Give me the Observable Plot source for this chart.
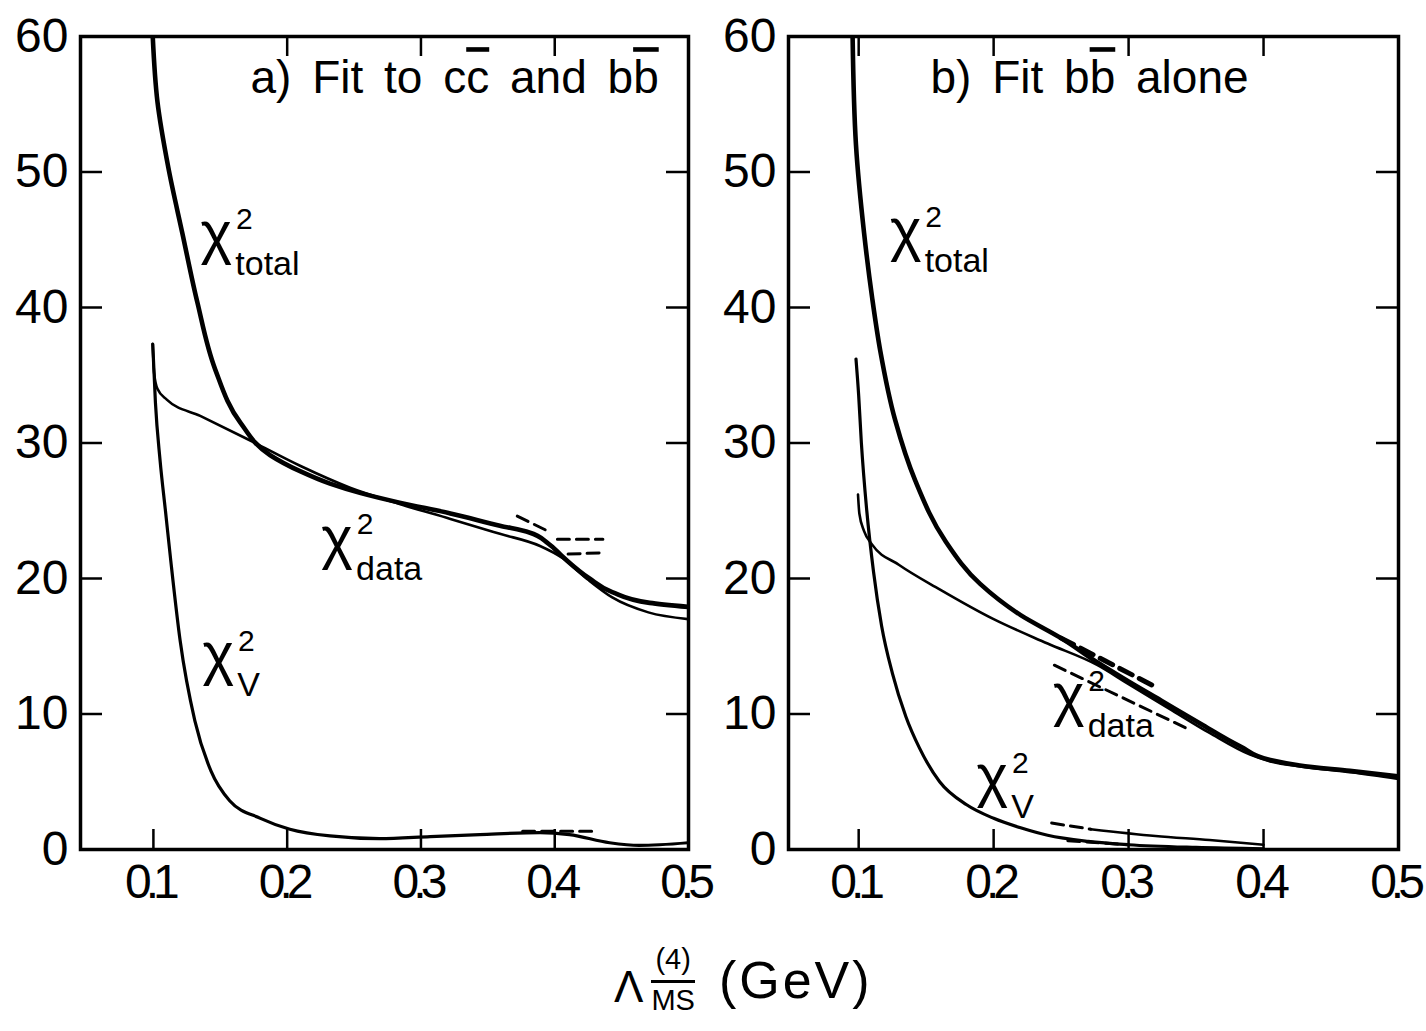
<!DOCTYPE html>
<html><head><meta charset="utf-8">
<script src="https://cdn.jsdelivr.net/npm/d3@7"></script>
<script src="https://cdn.jsdelivr.net/npm/@observablehq/plot@0.6"></script>
<style>
html,body{margin:0;padding:0;background:#fff;}
body{width:1426px;height:1031px;position:relative;overflow:hidden;font-family:"Liberation Sans",Arial,sans-serif;}
#pa{position:absolute;left:0;top:0;}
#pb{position:absolute;left:700px;top:0;}
#pa svg,#pb svg{overflow:visible;max-width:none;background:transparent;}
g[aria-label="x-axis tick label"] text{letter-spacing:-6px;}
#xlabel{position:absolute;left:614px;top:944px;line-height:1;white-space:nowrap;color:#000;}
#xlabel .lam{display:inline-block;vertical-align:middle;font-size:44px;margin-top:14px;}
#xlabel .stack{display:inline-flex;flex-direction:column;align-items:center;vertical-align:middle;margin:0 24px 0 8px;}
#xlabel .stack span{font-size:29px;line-height:1.05;}
#xlabel .stack .ms{border-top:3px solid #000;padding-top:2px;margin-top:6px;}
#xlabel .gev{display:inline-block;vertical-align:middle;font-size:52px;letter-spacing:3px;}
</style>
</head><body>
<div id="pa"></div><div id="pb"></div>
<div id="xlabel"><span class="lam">Λ</span><span class="stack"><span>(4)</span><span class="ms">MS</span></span><span class="gev">(GeV)</span></div>
<script>
// ---- axis ticks ----
const xTickValues = [0.1, 0.2, 0.3, 0.4, 0.5];
const yTickValues = [0, 10, 20, 30, 40, 50, 60];
const xInnerTicks = [0.1, 0.2, 0.3, 0.4];
const yInnerTicks = [10, 20, 30, 40, 50];

// ---- panel a) Fit to cc̄ and bb̄ ----
const aTotal = [[0.0995,60],[0.103,55.2],[0.1112,50.3],[0.1216,45.5],[0.1328,40.4],[0.1463,35.4],[0.165,31.5],[0.1873,29.1],[0.21,27.9],[0.232,27.0],[0.255,26.3],[0.284,25.6],[0.322,24.8],[0.359,23.9],[0.381,23.4],[0.395,22.6],[0.406,21.6],[0.426,20.0],[0.443,19.0],[0.471,18.2],[0.5,17.9]];
const aData = [[0.0995,37.3],[0.1005,35.2],[0.103,34.0],[0.11,33.2],[0.135,32.0],[0.172,30.2],[0.21,28.3],[0.247,26.7],[0.284,25.5],[0.322,24.4],[0.359,23.3],[0.389,22.4],[0.406,21.5],[0.425,19.9],[0.443,18.6],[0.47,17.5],[0.5,17.0]];
const aV = [[0.0995,37.3],[0.1015,33],[0.105,28.7],[0.109,25],[0.113,21.3],[0.12,15.4],[0.131,9.5],[0.143,5.8],[0.157,3.6],[0.18,2.3],[0.202,1.5],[0.232,1.0],[0.269,0.8],[0.307,0.95],[0.344,1.1],[0.389,1.25],[0.411,1.1],[0.441,0.5],[0.463,0.3],[0.5,0.5]];
const aDashed = [
  [[0.372,24.6],[0.397,23.4]],
  [[0.402,22.9],[0.436,22.9]],
  [[0.41,21.8],[0.436,21.9]],
  [[0.376,1.35],[0.43,1.35]]
];

// ---- panel b) Fit bb̄ alone ----
const bTotal = [[0.0955,60],[0.098,52],[0.104,45.5],[0.11,40.7],[0.116,36.8],[0.127,31.7],[0.142,27.2],[0.164,22.8],[0.19,19.6],[0.22,17.3],[0.25,15.6],[0.277,13.8],[0.3,12.4],[0.324,11.0],[0.353,9.3],[0.383,7.6],[0.405,6.6],[0.427,6.2],[0.464,5.8],[0.5,5.4]];
const bData = [[0.0995,26.2],[0.1005,24.8],[0.104,23.5],[0.11,22.5],[0.13,21.0],[0.16,19.2],[0.2,17.0],[0.24,15.2],[0.277,13.6],[0.3,12.2],[0.33,10.4],[0.36,8.6],[0.39,7.0],[0.405,6.5],[0.43,6.1],[0.465,5.7],[0.5,5.2]];
const bV = [[0.098,36.2],[0.1,33.5],[0.102,30],[0.106,25],[0.111,20.5],[0.117,16.5],[0.125,13],[0.135,9.8],[0.145,7.5],[0.16,5.0],[0.18,3.3],[0.2,2.3],[0.22,1.6],[0.24,1.05],[0.27,0.6],[0.3,0.35],[0.35,0.15],[0.4,0.05]];
const bV2 = [[0.272,1.5],[0.32,1.0],[0.36,0.7],[0.4,0.35]];
const bDashed = [
  [[0.243,1.95],[0.272,1.5]],
  [[0.255,0.65],[0.3,0.35]],
  [[0.245,13.6],[0.344,8.9]]
];
const bDashedThick = [
  [[0.25,15.6],[0.318,12.1]]
];

// ---- curve labels ----
const labelSubs = ["total", "data", "V"];
const aLabelPos = [[0.147,44.7],[0.2373,22.2],[0.1485,13.6]];
const bLabelPos = [[0.1348,44.9],[0.2556,10.6],[0.199,4.6]];

const titles = {a: "a) Fit to cc\u0305 and bb\u0305", b: "b) Fit bb\u0305 alone"};

function toRows(pairs){ return pairs.map(([x,y]) => ({x, y})); }
function groups(list){ return list.flatMap((seg,i) => seg.map(([x,y]) => ({x, y, g:i}))); }

// turn "x\u0305" into an overlined tspan
function overline(svg){
  svg.querySelectorAll("text").forEach(t => {
    const s = t.textContent;
    if (!s.includes("\u0305")) return;
    t.textContent = "";
    const ns = "http://www.w3.org/2000/svg";
    let buf = "";
    for (let i = 0; i < s.length; i++) {
      if (s[i+1] === "\u0305") {
        if (buf) { t.appendChild(document.createTextNode(buf)); buf = ""; }
        const ts = document.createElementNS(ns, "tspan");
        ts.textContent = s[i];
        ts.setAttribute("style", "text-decoration:overline;");
        t.appendChild(ts);
        i++;
      } else buf += s[i];
    }
    if (buf) t.appendChild(document.createTextNode(buf));
    t.setAttribute("style", "word-spacing:8px;");
  });
}

function panel(opt){
  const W = opt.width, H = 940, mt = 36, mb = 91;
  const fw = W - opt.ml - opt.mr, fh = H - mt - mb;
  const labs = labelSubs.map((s,i) => ({x: opt.lab[i][0], y: opt.lab[i][1], sub: s}));
  const marks = [
    Plot.axisY(yTickValues, {anchor:"left", label:null, tickSize:0, tickPadding:12, fontSize:48, tickFormat: d => String(d)}),
    Plot.axisX(xTickValues, {anchor:"bottom", label:null, tickSize:0, tickPadding:14, fontSize:48, dx:-4, tickFormat: d => d.toFixed(1)}),
    Plot.tickX(xInnerTicks, {x: d => d, insetTop: fh - 20, strokeWidth: 2.5}),
    Plot.tickX(xInnerTicks, {x: d => d, insetBottom: fh - 20, strokeWidth: 2.5}),
    Plot.tickY(yInnerTicks, {y: d => d, insetRight: fw - 22, strokeWidth: 2.5}),
    Plot.tickY(yInnerTicks, {y: d => d, insetLeft: fw - 22, strokeWidth: 2.5}),
    Plot.line(toRows(opt.data), {x:"x", y:"y", stroke:"#000", strokeWidth:2.6, curve:"monotone-x", clip:true}),
    Plot.line(toRows(opt.v), {x:"x", y:"y", stroke:"#000", strokeWidth:3.2, curve:"monotone-x", clip:true}),
    Plot.line(toRows(opt.total), {x:"x", y:"y", stroke:"#000", strokeWidth:4.6, curve:"monotone-y", clip:true}),
    Plot.line(groups(opt.dashed), {x:"x", y:"y", z:"g", stroke:"#000", strokeWidth:3, strokeDasharray:"12,7"}),
    Plot.frame({stroke:"#000", strokeWidth:3.5}),
    Plot.text(labs, {x:"x", y:"y", text: () => "χ", fontSize:60, dy:-10, fill:"#000"}),
    Plot.text(labs, {x:"x", y:"y", text: () => "2", fontSize:30, dx:28, dy:-24, fill:"#000"}),
    Plot.text(labs, {x:"x", y:"y", text:"sub", fontSize:34, dx:19, dy:20, textAnchor:"start", fill:"#000"}),
    Plot.text([opt.title], {frameAnchor:"top-left", textAnchor:"start", lineAnchor:"top", dx:opt.tdx, dy:24, fontSize:46, fill:"#000"})
  ];
  if (opt.v2) marks.push(Plot.line(toRows(opt.v2), {x:"x", y:"y", stroke:"#000", strokeWidth:2.6, curve:"monotone-x"}));
  if (opt.dashedThick) marks.push(Plot.line(groups(opt.dashedThick), {x:"x", y:"y", z:"g", stroke:"#000", strokeWidth:5, strokeDasharray:"14,8"}));
  const svg = Plot.plot({
    width: W, height: H, marginTop: mt, marginBottom: mb, marginLeft: opt.ml, marginRight: opt.mr,
    x: {domain: opt.xdom, label: null}, y: {domain: [0, 60], label: null},
    style: {fontFamily: '"Liberation Sans", Arial, sans-serif', color: "#000", background: "transparent", overflow: "visible"},
    marks
  });
  overline(svg);
  return svg;
}

document.getElementById("pa").appendChild(panel({
  width: 700, ml: 80, mr: 12, xdom: [0.0455, 0.5],
  total: aTotal, data: aData, v: aV, dashed: aDashed, lab: aLabelPos, title: titles.a, tdx: 170
}));
document.getElementById("pb").appendChild(panel({
  width: 712, ml: 88, mr: 14, xdom: [0.048, 0.5],
  total: bTotal, data: bData, v: bV, v2: bV2, dashed: bDashed, dashedThick: bDashedThick, lab: bLabelPos, title: titles.b, tdx: 142
}));
</script>
</body></html>
